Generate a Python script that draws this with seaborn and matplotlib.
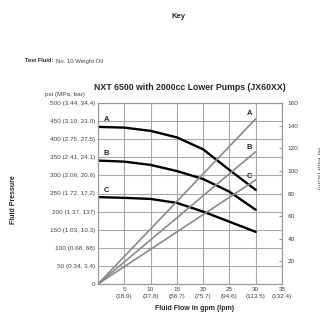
import pandas as pd
import matplotlib
matplotlib.use("Agg")
import matplotlib.pyplot as plt
import seaborn as sns

# fluid flow (gpm) and read-off pressure curves (psi)
flow = [0, 5, 10, 15, 20, 25, 30]
pressure_a = [434, 432, 423, 405, 372, 315, 260]
pressure_b = [341, 338, 329, 312, 290, 255, 205]
pressure_c = [240, 238, 235, 224, 200, 172, 144]

# air flow lines (scfm), straight from origin to 30 gpm
air_flow = [0, 30]
air_a = [0, 146]
air_b = [0, 117]
air_c = [0, 92]

psi_ticks = [0, 50, 100, 150, 200, 250, 300, 350, 400, 450, 500]
psi_labels = ["0", "50 (0.34, 3.4)", "100 (0.68, 68)", "150 (1.03, 10.3)",
              "200 (1.37, 137)", "250 (1.72, 17.2)", "300 (2.06, 20.6)",
              "350 (2.41, 24.1)", "400 (2.75, 27.5)", "450 (3.10, 31.0)",
              "500 (3.44, 34.4)"]
gpm_ticks = [5, 10, 15, 20, 25, 30, 35]
gpm_labels = ["5\n(18.9)", "10\n(37.8)", "15\n(56.7)", "20\n(75.7)",
              "25\n(94.6)", "30\n(113.5)", "35\n(132.4)"]
scfm_ticks = [20, 40, 60, 80, 100, 120, 140, 160]

sns.set_style("white")
plt.rcParams['font.family'] = ['Liberation Sans', 'DejaVu Sans']

pres_df = pd.DataFrame({
    'flow': flow * 3,
    'psi': pressure_a + pressure_b + pressure_c,
    'pump': ['A'] * 7 + ['B'] * 7 + ['C'] * 7,
})
air_df = pd.DataFrame({
    'flow': air_flow * 3,
    'scfm': air_a + air_b + air_c,
    'pump': ['A'] * 2 + ['B'] * 2 + ['C'] * 2,
})

fig = plt.figure(figsize=(3.2, 3.15), dpi=100)
ax = fig.add_axes([98 / 320, 31 / 315, 184 / 320, 181 / 315])
ax2 = ax.twinx()

grid_col = '#a8a8a8'
ax.set_xlim(0, 35)
ax.set_ylim(0, 500)
ax.set_xticks(gpm_ticks)
ax.set_xticklabels(gpm_labels, fontsize=4.6, color='#444', linespacing=1.5)
ax.set_yticks(psi_ticks)
ax.set_yticklabels(psi_labels, fontsize=4.6, color='#444')
ax.grid(True, color=grid_col, lw=0.8)
ax.tick_params(axis='both', length=0, pad=2)
for s in ax.spines.values():
    s.set_color('#999')
    s.set_linewidth(0.8)

sns.lineplot(data=pres_df, x='flow', y='psi', hue='pump', ax=ax,
             palette=['black'] * 3, linewidth=1.7, legend=False)
sns.lineplot(data=air_df, x='flow', y='scfm', hue='pump', ax=ax2,
             palette=['#8a8a8a'] * 3, linewidth=1.2, legend=False)
ax.set_xlabel('')
ax.set_ylabel('')

ax2.set_ylim(0, 160)
ax2.set_yticks(scfm_ticks)
ax2.set_yticklabels([str(t) for t in scfm_ticks], fontsize=4.6, color='#444')
ax2.tick_params(axis='y', direction='in', length=2.5, pad=4, color='#999')
ax2.set_ylabel('')
for s in ax2.spines.values():
    s.set_color('#999')
    s.set_linewidth(0.8)

# curve labels
for lab, yv in zip(['A', 'B', 'C'], [455, 360, 258]):
    ax.text(1.1, yv, lab, fontsize=5.5, fontweight='bold', va='center')
for lab, yv in zip(['A', 'B', 'C'], [151, 121, 95]):
    ax2.text(28.8, yv, lab, fontsize=5.5, fontweight='bold', va='center', ha='center')

fig.text(179 / 320, 1 - 17 / 315, 'Key', fontsize=5.5, fontweight='bold',
         ha='center', va='center')
fig.text(25 / 320, 1 - 61 / 315, 'Test Fluid:', fontsize=4.1, fontweight='bold',
         va='center')
fig.text(56 / 320, 1 - 61 / 315, 'No. 10 Weight Oil', fontsize=4.3, color='#444',
         va='center')
fig.text(190 / 320, 1 - 88 / 315, 'NXT 6500 with 2000cc Lower Pumps (JX60XX)',
         fontsize=6.3, fontweight='bold', ha='center', va='center')
fig.text(65 / 320, 1 - 94 / 315, 'psi (MPa, bar)', fontsize=4.6, color='#444',
         ha='center', va='center')
fig.text(14 / 320, 1 - 200 / 315, 'Fluid Pressure', fontsize=5, fontweight='bold',
         rotation=90, ha='center', va='center')
fig.text(195 / 320, 1 - 308 / 315, 'Fluid Flow in gpm (lpm)', fontsize=5,
         fontweight='bold', ha='center', va='center')
fig.text(318 / 320, 1 - 168 / 315, 'Air Flow (scfm)', fontsize=4.6,
         color='#444', rotation=270, ha='center', va='center')

fig.savefig('out.png', dpi=100)
